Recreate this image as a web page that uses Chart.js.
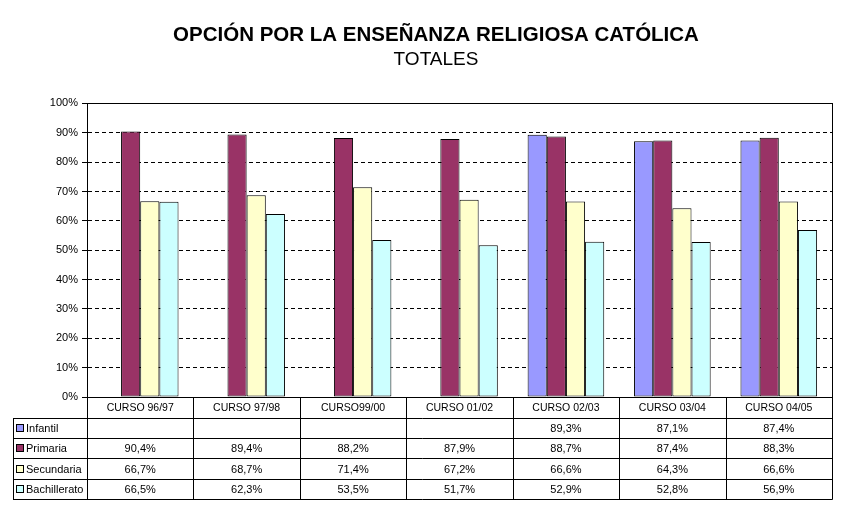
<!DOCTYPE html>
<html>
<head>
<meta charset="utf-8">
<script src="https://cdn.jsdelivr.net/npm/chart.js@4"></script>
<style>
  html, body { margin: 0; padding: 0; background: #fff; }
  canvas { display: block; }
</style>
</head>
<body>
<canvas id="chart" width="855" height="525"></canvas>
<script>
const cursos = ['CURSO 96/97', 'CURSO 97/98', 'CURSO99/00', 'CURSO 01/02', 'CURSO 02/03', 'CURSO 03/04', 'CURSO 04/05'];
const infantil = [null, null, null, null, 89.3, 87.1, 87.4];
const primaria = [90.4, 89.4, 88.2, 87.9, 88.7, 87.4, 88.3];
const secundaria = [66.7, 68.7, 71.4, 67.2, 66.6, 64.3, 66.6];
const bachillerato = [66.5, 62.3, 53.5, 51.7, 52.9, 52.8, 56.9];
const yTicks = [0, 10, 20, 30, 40, 50, 60, 70, 80, 90, 100];

const FONT = 'Arial, "Liberation Sans", sans-serif';

function fmt(v) {
    return v.toFixed(1).replace('.', ',') + '%';
}

// draws the plot border and the data table under the bars
const dataTable = {
    id: 'dataTable',
    afterDraw(chart) {
        const ctx = chart.ctx;
        const area = chart.chartArea;
        const x = chart.scales.x;
        const sets = chart.data.datasets;
        const left = 13;
        const headerH = 21;
        const rowH = 20.2;
        const top = area.bottom;
        const bottom = top + headerH + rowH * sets.length;
        const half = (x.getPixelForValue(1) - x.getPixelForValue(0)) / 2;

        ctx.save();
        ctx.strokeStyle = '#000';
        ctx.lineWidth = 1;

        // plot frame
        ctx.strokeRect(Math.round(area.left) + 0.5, Math.round(area.top) + 0.5,
            Math.round(area.right - area.left), Math.round(area.bottom - area.top));

        // horizontal lines
        ctx.beginPath();
        for (let r = 0; r <= sets.length; r++) {
            const y = Math.round(top + headerH + r * rowH) + 0.5;
            ctx.moveTo(left, y);
            ctx.lineTo(Math.round(area.right) + 0.5, y);
        }
        // vertical lines
        ctx.moveTo(left + 0.5, Math.round(top + headerH));
        ctx.lineTo(left + 0.5, Math.round(bottom) + 0.5);
        for (let i = 0; i <= cursos.length; i++) {
            const xx = Math.round(x.getPixelForValue(0) - half + i * half * 2) + 0.5;
            ctx.moveTo(xx, Math.round(top));
            ctx.lineTo(xx, Math.round(bottom) + 0.5);
        }
        ctx.stroke();

        ctx.fillStyle = '#000';
        ctx.textBaseline = 'middle';
        ctx.textAlign = 'center';
        ctx.font = '10.5px ' + FONT;
        cursos.forEach((c, i) => {
            ctx.fillText(c, x.getPixelForValue(i), top + headerH / 2 + 1);
        });

        ctx.font = '11px ' + FONT;
        sets.forEach((ds, r) => {
            const cy = top + headerH + r * rowH + rowH / 2 + 1;
            // legend key
            ctx.fillStyle = ds.backgroundColor;
            ctx.fillRect(16.5, Math.round(cy) - 4.5, 7, 7);
            ctx.strokeRect(16.5, Math.round(cy) - 4.5, 7, 7);
            ctx.fillStyle = '#000';
            ctx.textAlign = 'left';
            ctx.fillText(ds.label, 26, cy);
            ctx.textAlign = 'center';
            ds.data.forEach((v, i) => {
                if (v !== null) ctx.fillText(fmt(v), x.getPixelForValue(i), cy);
            });
        });
        ctx.restore();
    }
};

function barSet(label, data, color) {
    return {
        label: label,
        data: data,
        backgroundColor: color,
        borderColor: '#000',
        borderWidth: 1,
        borderSkipped: false,
        categoryPercentage: 0.72,
        barPercentage: 1.0
    };
}

new Chart(document.getElementById('chart'), {
    type: 'bar',
    data: {
        labels: cursos,
        datasets: [
            barSet('Infantil', infantil, '#9999FF'),
            barSet('Primaria', primaria, '#993366'),
            barSet('Secundaria', secundaria, '#FFFFCC'),
            barSet('Bachillerato', bachillerato, '#CCFFFF')
        ]
    },
    options: {
        responsive: false,
        animation: false,
        devicePixelRatio: 1,
        layout: { padding: { left: 40, right: 23, top: 0, bottom: 128 } },
        plugins: {
            legend: { display: false },
            tooltip: { enabled: false },
            title: {
                display: true,
                text: 'OPCIÓN POR LA ENSEÑANZA RELIGIOSA CATÓLICA',
                color: '#000',
                font: { family: FONT, size: 20.5, weight: 'bold' },
                padding: { top: 23, bottom: 1 }
            },
            subtitle: {
                display: true,
                text: 'TOTALES',
                color: '#000',
                font: { family: FONT, size: 19 },
                padding: { top: 0, bottom: 32 }
            }
        },
        scales: {
            x: {
                display: false
            },
            y: {
                min: 0,
                max: 100,
                afterBuildTicks(scale) {
                    scale.ticks = yTicks.map(v => ({ value: v }));
                },
                afterFit(scale) {
                    scale.width = 47;
                },
                border: { display: true, color: '#000', dash: [4, 3] },
                grid: {
                    color: '#000',
                    tickBorderDash: [],
                    tickLength: 5,
                    drawTicks: true
                },
                ticks: {
                    color: '#000',
                    padding: 4,
                    font: { family: FONT, size: 11 },
                    callback: v => v + '%'
                }
            }
        }
    },
    plugins: [dataTable]
});
</script>
</body>
</html>
